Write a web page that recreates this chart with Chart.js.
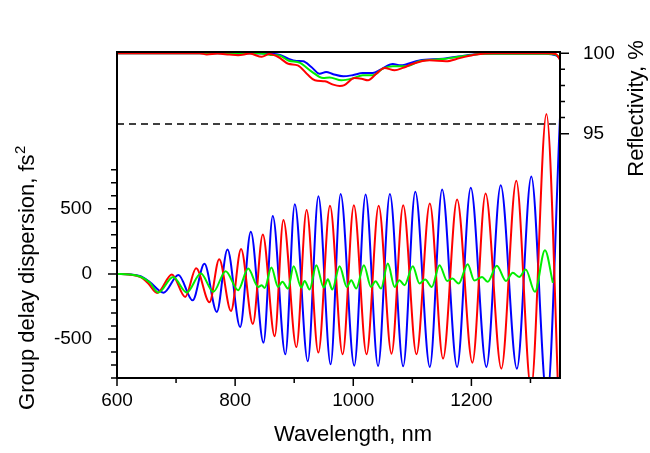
<!DOCTYPE html>
<html>
<head>
<meta charset="utf-8">
<script src="https://cdn.jsdelivr.net/npm/chart.js@4"></script>
<style>
  body { margin: 0; background: #fff; }
  #wrap { width: 650px; height: 453px; }
</style>
</head>
<body>
<div id="wrap"><canvas id="gddChart" width="650" height="453"></canvas></div>
<script>
// Group delay dispersion (fs^2) - turning points
const blueGddWl = [600, 620, 640, 655, 679, 704, 728, 748, 769, 787, 808.5, 826.5, 848, 863.7, 885, 901, 923, 941, 961.7, 978.6, 1001.7, 1020.9, 1042, 1062, 1084.5, 1105, 1129.6, 1150.4, 1175.8, 1198.9, 1225.4, 1249.6, 1277, 1301.4, 1328, 1350];
const blueGdd   = [0, -3, -18, -60, -144, -8, -203, 77, -292, 187, -408, 323, -528, 444, -618, 536, -672, 597, -695, 613, -705, 610, -708, 613, -710, 631, -715, 649, -715, 661, -715, 682, -728, 749, -960, 1200];

const redGddWl = [600, 620, 640, 653, 668, 693, 715.5, 734, 756.6, 773, 793, 810, 830, 846.8, 867, 881.7, 903.7, 921, 940.9, 960.6, 982, 1001, 1022.5, 1043, 1064.8, 1084.5, 1107, 1129.6, 1152, 1175.8, 1201.7, 1224, 1250.7, 1276, 1301, 1327, 1350];
const redGdd   = [0, -5, -25, -74, -146, -5, -177, 44, -218, 113, -285, 192, -385, 303, -479, 415, -562, 490, -605, 523, -618, 528, -618, 523, -613, 528, -618, 541, -651, 572, -682, 618, -728, 715, -880, 1228, -1300];

const greenGddWl = [600, 620, 640, 655, 670, 695, 718, 742, 763, 784, 805, 822, 839, 845, 850, 861.4, 872.7, 880, 889.6, 899, 912, 917.7, 926, 937.5, 950, 957, 964.5, 976.9, 989, 996.6, 1005, 1018, 1030, 1037.7, 1047, 1058.5, 1070, 1078, 1086.7, 1100.8, 1112, 1121.7, 1133, 1146, 1159, 1168, 1178.5, 1193.7, 1205, 1218, 1227.5, 1243, 1258.6, 1270, 1281, 1292, 1307.6, 1324.5, 1338];
const greenGdd   = [0, -4, -22, -65, -143, -23, -143, 3, -138, 21, -125, 41, -100, -88, -108, 49, -100, -61, -113, 59, -105, -54, -120, 67, -105, -41, -120, 59, -100, -49, -113, 67, -100, -56, -113, 79, -100, -48, -87, 59, -74, -43, -100, 67, -54, -36, -74, 74, -51, -23, -61, 62, -54, 8, -23, 34, -138, 182, -69];

// Reflectivity (%)
const blueReflWl = [600, 780, 800, 820, 860, 876, 890, 904, 915, 929, 943, 954, 966, 983, 999, 1016, 1033, 1047, 1067, 1080, 1112, 1152, 1191, 1224, 1326, 1343, 1350];
const blueRefl   = [100, 100, 99.95, 100, 99.97, 99.9, 99.66, 99.52, 99.5, 99.15, 98.73, 98.84, 98.7, 98.57, 98.64, 98.77, 98.77, 99.0, 99.33, 99.25, 99.56, 99.66, 99.87, 99.97, 99.97, 99.87, 99.7];

const redReflWl = [600, 740, 752, 770, 790, 805, 825, 845, 858, 873, 890, 906, 924, 935, 952, 966, 977, 985, 1002, 1014, 1025, 1039, 1053, 1070, 1084, 1101, 1129, 1157, 1180, 1208, 1240, 1326, 1343, 1350];
const redRefl   = [100, 100, 99.93, 99.98, 99.92, 99.88, 99.98, 99.78, 99.95, 99.77, 99.35, 99.25, 98.63, 98.32, 98.26, 98.05, 97.97, 98.02, 98.46, 98.42, 98.32, 98.73, 99.09, 98.94, 99.09, 99.35, 99.56, 99.5, 99.7, 99.93, 100, 100, 99.95, 99.6];

const greenReflWl = [600, 840, 860, 876, 890, 910, 929, 949, 960, 980, 1000, 1016, 1033, 1050, 1067, 1090, 1112, 1152, 1191, 1224, 1326, 1343, 1350];
const greenRefl   = [100, 100, 99.9, 99.85, 99.55, 99.4, 98.88, 98.46, 98.5, 98.32, 98.45, 98.63, 98.63, 99.05, 99.2, 99.2, 99.5, 99.64, 99.85, 99.97, 99.97, 99.9, 99.75];

// dashed reference level on the reflectivity axis
const refLevelWl = [600, 1350];
const refLevel   = [95.6, 95.6];

// tick labels
const xTickLabels = [600, 800, 1000, 1200];
const gddTickLabels = [-500, 0, 500];
const reflTickLabels = [95, 100];

const FONT = "'Liberation Sans', Arial, sans-serif";

function toPoints(xs, ys) {
    return xs.map((x, i) => ({ x: x, y: ys[i] }));
}

function lineSet(xs, ys, color, axis, order) {
    return {
        data: toPoints(xs, ys),
        borderColor: color,
        borderWidth: 2,
        pointRadius: 0,
        fill: false,
        cubicInterpolationMode: 'monotone',
        yAxisID: axis,
        order: order
    };
}

// frame, tick marks and axis titles
const framePlugin = {
    id: 'frame',
    afterDraw(chart) {
        const ctx = chart.ctx;
        const a = chart.chartArea;
        const sx = chart.scales.x, sy = chart.scales.y, sr = chart.scales.y2;
        ctx.save();
        ctx.strokeStyle = '#000';
        ctx.lineWidth = 2;
        ctx.strokeRect(a.left, a.top, a.right - a.left, a.bottom - a.top);

        ctx.lineWidth = 1.5;
        ctx.beginPath();
        for (let v = 600; v <= 1300; v += 100) {
            const px = sx.getPixelForValue(v);
            const len = v % 200 === 0 ? 8 : 5;
            ctx.moveTo(px, a.bottom);
            ctx.lineTo(px, a.bottom + len);
        }
        for (let v = -800; v <= 800; v += 100) {
            const py = sy.getPixelForValue(v);
            const len = v % 500 === 0 ? 9 : 6;
            ctx.moveTo(a.left, py);
            ctx.lineTo(a.left - len, py);
        }
        for (let v = 95; v <= 100; v += 1) {
            const py = sr.getPixelForValue(v);
            const len = v % 5 === 0 ? 9 : 5;
            ctx.moveTo(a.right, py);
            ctx.lineTo(a.right + len, py);
        }
        ctx.stroke();

        ctx.fillStyle = '#000';
        ctx.font = '22px ' + FONT;
        ctx.textAlign = 'center';
        ctx.textBaseline = 'alphabetic';
        ctx.fillText('Wavelength, nm', 353, 441);

        // left title with superscript 2
        const main = 'Group delay dispersion, fs';
        ctx.save();
        ctx.translate(33.5, 278);
        ctx.rotate(-Math.PI / 2);
        ctx.font = '22px ' + FONT;
        const w1 = ctx.measureText(main).width;
        ctx.font = '15px ' + FONT;
        const w2 = ctx.measureText('2').width;
        const start = -(w1 + w2) / 2;
        ctx.textAlign = 'left';
        ctx.font = '22px ' + FONT;
        ctx.fillText(main, start, 0);
        ctx.font = '15px ' + FONT;
        ctx.fillText('2', start + w1 + 0.5, -9);
        ctx.restore();

        ctx.save();
        ctx.translate(642.5, 108.5);
        ctx.rotate(-Math.PI / 2);
        ctx.font = '22px ' + FONT;
        ctx.textAlign = 'center';
        ctx.fillText('Reflectivity, %', 0, 0);
        ctx.restore();
        ctx.restore();
    }
};

const tickFont = { family: FONT, size: 19 };
const plainLabel = v => String(v);

new Chart(document.getElementById('gddChart'), {
    type: 'line',
    data: {
        datasets: [
            lineSet(greenGddWl, greenGdd, '#00ee00', 'y', 1),
            lineSet(redGddWl, redGdd, '#ff0000', 'y', 2),
            lineSet(blueGddWl, blueGdd, '#0000ff', 'y', 3),
            lineSet(redReflWl, redRefl, '#ff0000', 'y2', 4),
            lineSet(greenReflWl, greenRefl, '#00ee00', 'y2', 5),
            lineSet(blueReflWl, blueRefl, '#0000ff', 'y2', 6),
            Object.assign(lineSet(refLevelWl, refLevel, '#000000', 'y2', 0), { borderDash: [7, 5], borderWidth: 1.6, cubicInterpolationMode: 'default', tension: 0 })
        ]
    },
    options: {
        responsive: false,
        animation: false,
        events: [],
        layout: { padding: { top: 52, left: 0, right: 0, bottom: 0 } },
        plugins: { legend: { display: false }, tooltip: { enabled: false } },
        scales: {
            x: {
                type: 'linear',
                position: 'bottom',
                min: 600,
                max: 1350,
                grid: { display: false, drawTicks: false },
                border: { display: false },
                afterBuildTicks: s => { s.ticks = xTickLabels.map(v => ({ value: v })); },
                afterFit: s => { s.height = 75; },
                ticks: { font: tickFont, color: '#000', padding: 11, maxRotation: 0, callback: plainLabel }
            },
            y: {
                type: 'linear',
                position: 'left',
                min: -800,
                max: 1705,
                grid: { display: false, drawTicks: false },
                border: { display: false },
                afterBuildTicks: s => { s.ticks = gddTickLabels.map(v => ({ value: v })); },
                afterFit: s => { s.width = 117; },
                ticks: { font: tickFont, color: '#000', padding: 25, callback: plainLabel }
            },
            y2: {
                type: 'linear',
                position: 'right',
                min: 79.81,
                max: 100.08,
                grid: { display: false, drawTicks: false },
                border: { display: false },
                afterBuildTicks: s => { s.ticks = reflTickLabels.map(v => ({ value: v })); },
                afterFit: s => { s.width = 90; },
                ticks: { font: tickFont, color: '#000', padding: 23, callback: plainLabel }
            }
        }
    },
    plugins: [framePlugin]
});
</script>
</body>
</html>
